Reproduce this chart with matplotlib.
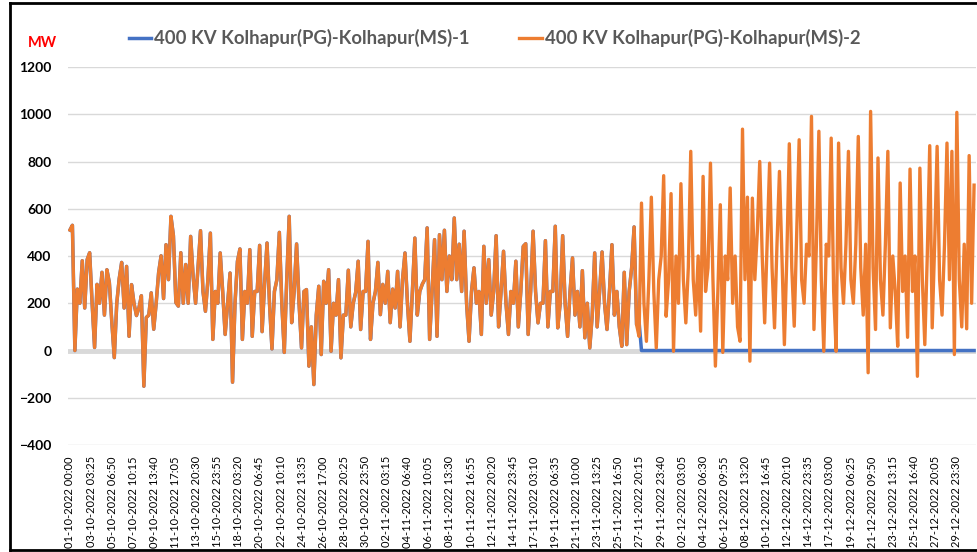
import pandas as pd
import matplotlib.pyplot as plt
from matplotlib.lines import Line2D

# ===============================
# DATA (MW, 6-hourly readings)
# ===============================
oct_mw = [
    510, 530, 0, 260,     200, 380, 180, 385,   414, 200, 13, 280,    200, 331, 150, 342,
    287, 120, -30, 200,   304, 373, 180, 356,   60, 279, 200, 148,    180, 232, -151, 140,
    150, 244, 90, 200,    330, 401, 220, 448,   300, 568, 486, 203,   188, 414, 200, 364,
    200, 483, 314, 200,   356, 507, 250, 166,   300, 497, 47, 250,    200, 413, 250, 68,
    200, 328, -134, 200,  378, 430, 47, 250,    200, 427, 60, 250,    250, 445, 80, 280,
    455, 200, 7, 250,     300, 500, 200, -8,    300, 568, 118, 250,   451, 200, 11, 250,
    258, -66, 100, -144,  150, 272, -17, 293,   200, 342, -3, 200,    150, 300, -31, 150,
    150, 340, 100, 200,   247, 378, 89, 250,    250, 462, 47, 200,
]
nov_mw = [
    250, 373, 152, 280,   200, 335, 118, 260,   180, 335, 100, 300,   413, 200, 39, 250,
    476, 150, 250, 280,   300, 519, 47, 250,    469, 60, 490, 300,    509, 250, 400, 300,
    561, 300, 450, 250,   505, 200, 39, 250,    350, 200, 250, 68,    441, 200, 385, 150,
    250, 486, 100, 250,   420, 200, 68, 250,    200, 378, 100, 250,   441, 452, 68, 250,
    505, 250, 117, 200,   200, 465, 100, 250,   250, 526, 96, 200,    486, 200, 60, 250,
    392, 150, 250, 100,   338, 54, 200, 11,     150, 413, 100, 250,   417, 200, 89, 250,
    448, 150, 250, 100,   18, 331, 25, 250,     350, 523, 110, 60,    624, 200, 39, 300,
    649, 250, 11, 300,    400, 740, 145, 300,
]
dec_mw = [
    664, -3, 400, 200,    706, 300, 117, 350,   843, 300, 150, 400,   82, 737, 250, 350,
    793, 300, -66, 250,   617, -8, 400, 300,    688, 200, 400, 100,   39, 937, 300, 649,
    -45, 645, 300, 500,   800, 400, 117, 450,   793, 350, 96, 450,    758, 400, 25, 400,
    875, 350, 103, 500,   892, 300, 200, 450,   400, 991, 89, 450,    928, 300, -3, 450,
    400, 899, 250, -3,    878, 350, 200, 450,   843, 300, 200, 450,   906, 350, 150, 450,
    -94, 1012, 350, 89,   815, 300, 150, 450,   843, 96, 400, 250,    18, 709, 250, 400,
    56, 768, 250, 400,    -109, 772, 300, 25,   400, 867, 96, 450,    864, 300, 150, 450,
    878, 300, 843, -17,   1008, 300, 100, 450,  92, 825, 200, 700,
]

line2_mw = oct_mw + nov_mw + dec_mw
# circuit-1 tracks circuit-2 until it trips on 28-11, then stays at 0
line1_mw = line2_mw[:231] + [124] + [0] * (len(line2_mw) - 232)

tick_labels = [
    '01-10-2022 00:00', '03-10-2022 03:25', '05-10-2022 06:50', '07-10-2022 10:15',
    '09-10-2022 13:40', '11-10-2022 17:05', '13-10-2022 20:30', '15-10-2022 23:55',
    '18-10-2022 03:20', '20-10-2022 06:45', '22-10-2022 10:10', '24-10-2022 13:35',
    '26-10-2022 17:00', '28-10-2022 20:25', '30-10-2022 23:50', '02-11-2022 03:15',
    '04-11-2022 06:40', '06-11-2022 10:05', '08-11-2022 13:30', '10-11-2022 16:55',
    '12-11-2022 20:20', '14-11-2022 23:45', '17-11-2022 03:10', '19-11-2022 06:35',
    '21-11-2022 10:00', '23-11-2022 13:25', '25-11-2022 16:50', '27-11-2022 20:15',
    '29-11-2022 23:40', '02-12-2022 03:05', '04-12-2022 06:30', '06-12-2022 09:55',
    '08-12-2022 13:20', '10-12-2022 16:45', '12-12-2022 20:10', '14-12-2022 23:35',
    '17-12-2022 03:00', '19-12-2022 06:25', '21-12-2022 09:50', '23-12-2022 13:15',
    '25-12-2022 16:40', '27-12-2022 20:05', '29-12-2022 23:30',
]

times = pd.date_range('2022-10-01 00:00', periods=len(line2_mw), freq='6h')
tick_pos = pd.to_datetime(tick_labels, format='%d-%m-%Y %H:%M')

# ===============================
# PLOT
# ===============================
plt.rcParams['font.family'] = ['Lato', 'DejaVu Sans']

fig = plt.figure(figsize=(9.78, 5.52), dpi=100)
ax = fig.add_axes([0.0695, 0.1938, 0.928, 0.6848])

ax.axhline(0, color='#d9d9d9', linewidth=3.5, zorder=1)
ax.plot(times, line1_mw, color='#4472c4', linewidth=2.5, zorder=2,
        label='400 KV Kolhapur(PG)-Kolhapur(MS)-1')
ax.plot(times, line2_mw, color='#ed7d31', linewidth=2.4, zorder=3,
        label='400 KV Kolhapur(PG)-Kolhapur(MS)-2')

ax.set_ylim(-400, 1200)
ax.set_yticks(range(-400, 1201, 200))
ax.set_xlim(pd.Timestamp('2022-09-30 19:12'), pd.Timestamp('2022-12-31 21:36'))
ax.set_xticks(tick_pos)
ax.set_xticklabels(tick_labels, rotation=90, fontsize=8, color='black')

ax.grid(axis='y', color='#d9d9d9', linewidth=1.0, zorder=0)
ax.set_axisbelow(True)
for spine in ax.spines.values():
    spine.set_visible(False)
ax.tick_params(axis='both', length=0)
ax.tick_params(axis='x', pad=8)
ax.tick_params(axis='y', pad=12)
for t in ax.get_yticklabels():
    t.set_fontweight('bold')
    t.set_fontsize(10)

leg = ax.legend(loc='center', bbox_to_anchor=(0.47, 1.076), ncol=2, frameon=False,
                handlelength=1.2, handletextpad=0.18, columnspacing=2.7,
                prop={'weight': 'bold', 'size': 13.3})
for t in leg.get_texts():
    t.set_color('#595959')

fig.text(0.028, 0.922, 'MW', color='#ff0000', fontsize=10.5, fontweight='bold',
         va='center', ha='left')

# outer frame of the screenshot
for xs, ys in [([0.010, 0.010], [0.003, 0.995]),
               ([0.010, 1.0], [0.995, 0.995]),
               ([0.010, 1.0], [0.003, 0.003])]:
    fig.add_artist(Line2D(xs, ys, color='black', linewidth=2.0, transform=fig.transFigure))

plt.savefig('out.png', dpi=100)
plt.close()
